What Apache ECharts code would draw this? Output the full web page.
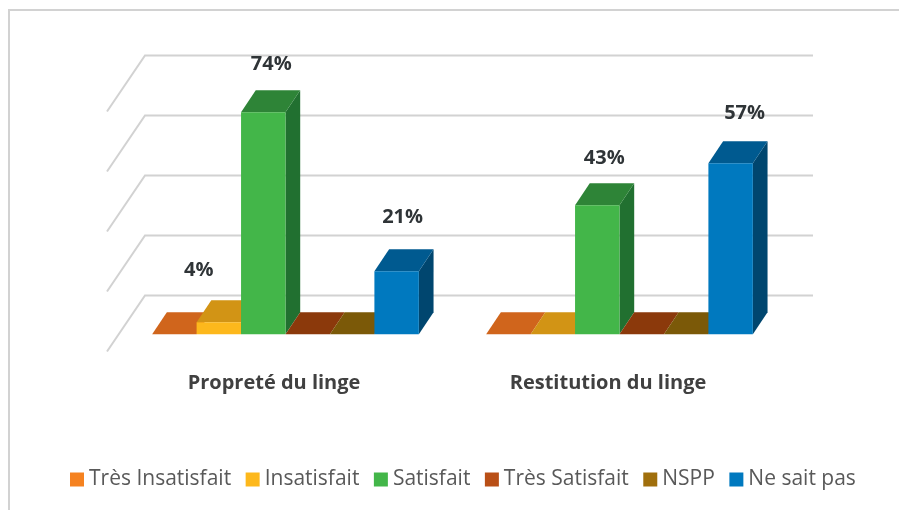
<!DOCTYPE html>
<html><head><meta charset="utf-8">
<style>html,body{margin:0;padding:0;background:#fff}#c{width:899px;height:510px}</style>
<script src="https://cdn.jsdelivr.net/npm/echarts@6/dist/echarts.min.js"></script>
</head><body><div id="c"></div>
<script>
var categories = ['Propreté du linge', 'Restitution du linge'];
var seriesNames = ['Très Insatisfait', 'Insatisfait', 'Satisfait', 'Très Satisfait', 'NSPP', 'Ne sait pas'];
var tresInsatisfait = [0, 0];
var insatisfait = [4, 0];
var satisfait = [74, 43];
var tresSatisfait = [0, 0];
var nspp = [0, 0];
var neSaitPas = [21, 57];
var valueTicks = [0, 20, 40, 60, 80];

var seriesValues = [tresInsatisfait, insatisfait, satisfait, tresSatisfait, nspp, neSaitPas];
var faceColors = [
  {front:'#f58220', top:'#d0651c', side:'#a8501a'},
  {front:'#fdb81c', top:'#d29415', side:'#a87810'},
  {front:'#43b649', top:'#2e8437', side:'#217030'},
  {front:'#b94f16', top:'#8b390b', side:'#6f2e09'},
  {front:'#a06f0c', top:'#7b5908', side:'#634806'},
  {front:'#0079bf', top:'#005a90', side:'#00466f'}
];
// Hand-placed label offsets [dx, dy] from the bar's front-top centre, per series then category
var labelShift = [null, [[-20,-52],null], [[8,-48.5],[7,-47.5]], null, null, [[6,-54],[14,-50]]];

var WALL_DX = 38, WALL_DY = 56;      // side-wall depth
var BAR_DX = 14.7, BAR_DY = 22;      // bar depth
var FLOOR_DX = 11.5, FLOOR_DY = 17.2;  // bar front plane from wall front
var BAR_RATIO = 44.45 / 334;

function wallItem(params, api) {
  var p = api.coord([0, api.value(0)]);
  var sz = api.size([1, 0])[0];
  var x0 = p[0] - sz / 2, y0 = p[1];
  return {
    type: 'polyline',
    shape: {points: [[x0, y0], [x0 + WALL_DX, y0 - WALL_DY], [x0 + WALL_DX + sz * categories.length, y0 - WALL_DY]]},
    style: {stroke: '#d2d2d2', lineWidth: 2, fill: null},
    silent: true
  };
}
function barRender(si) {
  return function (params, api) {
    var cat = api.value(0), val = api.value(1);
    var base = api.coord([cat, 0]), top = api.coord([cat, val]);
    var band = api.size([1, 0])[0], w = band * BAR_RATIO;
    var xl = base[0] + FLOOR_DX + (si - 3) * w, xr = xl + w;
    var yb = base[1] - FLOOR_DY, yt = top[1] - FLOOR_DY;
    var c = faceColors[si];
    var children = [];
    if (val > 0) children.push({type: 'polygon', shape: {points: [[xr, yb], [xr + BAR_DX, yb - BAR_DY], [xr + BAR_DX, yt - BAR_DY], [xr, yt]]}, style: {fill: c.side}});
    children.push({type: 'polygon', shape: {points: [[xl, yt], [xr, yt], [xr + BAR_DX, yt - BAR_DY], [xl + BAR_DX, yt - BAR_DY]]}, style: {fill: c.top}});
    if (val > 0) children.push({type: 'rect', shape: {x: xl, y: yt, width: w, height: yb - yt}, style: {fill: c.front}});
    var s = labelShift[si] && labelShift[si][params.dataIndex];
    if (val > 0 && s) children.push({type: 'text', style: {text: val + '%', x: (xl + xr) / 2 + s[0], y: yt + s[1], align: 'center', verticalAlign: 'middle', fill: '#2f3437', font: 'bold 20px "Open Sans"'}});
    return {type: 'group', children: children};
  };
}
var series = [{
  type: 'custom', name: 'walls', coordinateSystem: 'cartesian2d', clip: false, silent: true, z: 1,
  data: valueTicks.map(function (v) { return [v]; }),
  renderItem: wallItem, encode: {y: 0}
}];
seriesNames.forEach(function (n, si) {
  series.push({
    type: 'custom', name: n, coordinateSystem: 'cartesian2d', clip: false, z: 2 + si,
    itemStyle: {color: faceColors[si].front},
    data: seriesValues[si].map(function (v, i) { return [i, v]; }),
    encode: {x: 0, y: 1},
    renderItem: barRender(si)
  });
});
var chart = echarts.init(document.getElementById('c'), null, {renderer: 'canvas'});
chart.setOption({
  animation: false,
  backgroundColor: '#fff',
  tooltip: {show: false},
  grid: {left: 107, width: 668, top: 111.5, height: 240},
  xAxis: {type: 'category', data: categories, axisLine: {show: false}, axisTick: {show: false}, splitLine: {show: false},
    axisLabel: {margin: 22, color: '#404040', fontFamily: 'Open Sans', fontWeight: 'bold', fontSize: 20}},
  yAxis: {type: 'value', min: 0, max: 80, interval: 20, axisLabel: {show: false}, axisLine: {show: false}, axisTick: {show: false}, splitLine: {show: false}},
  legend: {data: seriesNames, left: 65, top: 464, icon: 'rect', itemWidth: 14, itemHeight: 14, itemGap: 14.5,
    selectedMode: false,
    textStyle: {color: '#595959', fontFamily: 'Open Sans', fontSize: 21}},
  graphic: [
    {type: 'polyline', silent: true, shape: {points: [[9, 510], [9, 10], [899, 10]]}, style: {stroke: '#d2d2d2', lineWidth: 2, fill: null}}
  ],
  series: series
});
</script></body></html>
